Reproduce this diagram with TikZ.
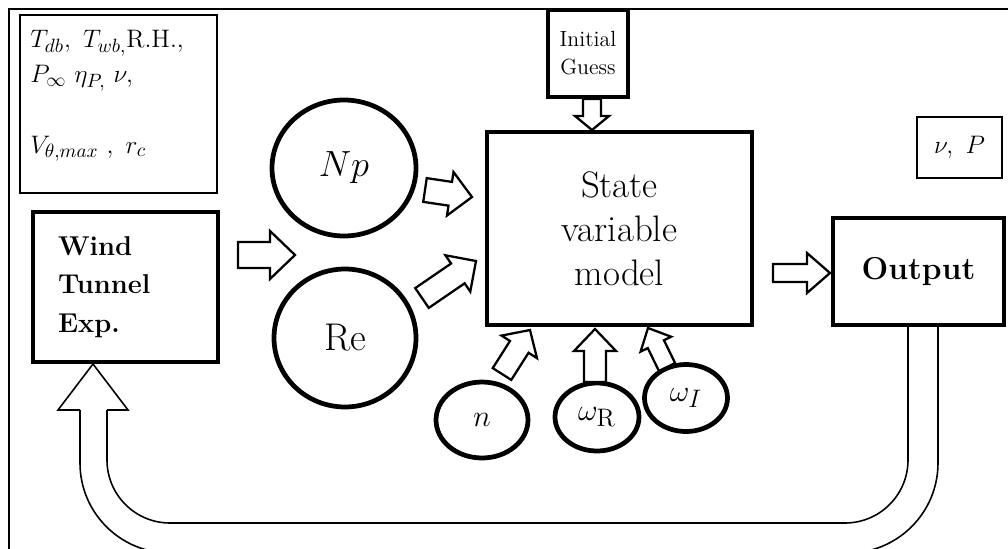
\documentclass[tikz,border=0pt]{standalone}
\usepackage{amsmath}
\usepackage{amssymb}
\usetikzlibrary{arrows.meta,calc,shapes.geometric}

\tikzset{
  thinbox/.style={draw, line width=0.6pt, inner sep=0pt},
  thickbox/.style={draw, fill=white, line width=2.6pt, inner sep=0pt},
  bubble/.style={draw, ellipse, line width=2.7pt, inner sep=0pt},
  blockarrow/.style={draw, fill=white, line width=1.3pt, line join=miter},
  looparrow/.style={line width=0.9pt},
}
% hollow arrow: tail, tip, half body width, half head width, head length
\newcommand{\hollowarrow}[5]{%
  \coordinate (hb) at ($(#2)!#5!(#1)$);
  \draw[blockarrow] ($(#1)!#3!90:(#2)$) -- ($(hb)!#3!-90:(#1)$)
    -- ($(hb)!#4!-90:(#1)$) -- (#2) -- ($(hb)!#4!90:(#1)$)
    -- ($(hb)!#3!90:(#1)$) -- ($(#1)!#3!-90:(#2)$) -- cycle;}

\begin{document}
\begin{tikzpicture}[x=0.02cm, y=-0.02cm]
  \useasboundingbox (0,0) rectangle (1008,548);
  % frame
  \draw[line width=0.8pt] (9,570) -- (9,9) -- (1030,9);

  % feedback loop
  \draw[looparrow, rounded corners=1.8cm] (938,325) -- (938,553) -- (80,553) -- (80,410);
  \draw[looparrow, rounded corners=1.26cm] (908,325) -- (908,523) -- (107,523) -- (107,410);
  \draw[looparrow] (80,410) -- (58,410) -- (93,364) -- (128,410) -- (107,410);

  % inputs
  \node[thinbox, minimum width=3.94cm, minimum height=3.56cm] (param) at (118.5,104) {};
  \node[anchor=north west, align=left, inner sep=0pt, font=\fontsize{15}{20}\selectfont]
    (paramtext) at (30,30) {$T_{db},\ T_{wb,}\mathrm{R.H.},$\\ $P_\infty\ \eta_{P,}\ \nu,$\\[20pt]
    $V_{\theta,max}\ ,\ r_c$};
  \node[thickbox, minimum width=3.7cm, minimum height=3cm, text width=2.7cm, align=left,
    font=\fontsize{15.5}{22}\selectfont\bfseries] (wind) at (125.5,287) {Wind\\Tunnel\\Exp.};

  % dimensionless groups
  \node[bubble, minimum width=2.88cm, minimum height=2.72cm, font=\fontsize{22}{26}\selectfont]
    (np) at (344,168) {$Np$};
  \node[bubble, minimum width=2.84cm, minimum height=2.76cm, font=\fontsize{22}{26}\selectfont]
    (re) at (345,338) {Re};

  % model
  \node[thickbox, minimum width=1.6cm, minimum height=1.74cm, align=center,
    font=\fontsize{12.5}{16}\selectfont] (guess) at (588,53.5) {Initial\\Guess};
  \node[thickbox, minimum width=5.3cm, minimum height=3.86cm, align=center,
    font=\fontsize{21}{25}\selectfont] (state) at (619.5,228.5) {State\\variable\\model};
  \node[bubble, minimum width=1.84cm, minimum height=1.52cm, font=\fontsize{19}{22}\selectfont]
    (n) at (482,420) {$n$};
  \node[bubble, minimum width=1.68cm, minimum height=1.36cm, font=\fontsize{19}{22}\selectfont]
    (wr) at (597,417) {$\omega_{\mathrm{R}}$};
  \node[bubble, minimum width=1.66cm, minimum height=1.34cm, font=\fontsize{19}{22}\selectfont]
    (wi) at (686,398) {$\omega_I$};

  % outputs
  \node[thickbox, minimum width=3.42cm, minimum height=2.14cm,
    font=\fontsize{18}{22}\selectfont\bfseries] (output) at (918.5,271.5) {Output};
  \node[thinbox, minimum width=1.7cm, minimum height=1.22cm, font=\fontsize{14}{16}\selectfont]
    (vp) at (959.5,147.5) {$\nu,\ P$};

  % arrow ends
  \coordinate (a1) at (238,255);  \coordinate (b1) at (295,255);
  \coordinate (a2) at (425,190);  \coordinate (b2) at (472,197);
  \coordinate (a3) at (422,298);  \coordinate (b3) at (476,261);
  \coordinate (a4) at (592,99);   \coordinate (b4) at (592,130);
  \coordinate (a5) at (502,374);  \coordinate (b5) at (530,330);
  \coordinate (a6) at (595,382);  \coordinate (b6) at (595,329);
  \coordinate (a7) at (667,367);  \coordinate (b7) at (648,328);
  \coordinate (a8) at (773,273);  \coordinate (b8) at (830,273);

  \hollowarrow{a1}{b1}{0.26cm}{0.48cm}{0.5cm}
  \hollowarrow{a2}{b2}{0.24cm}{0.44cm}{0.44cm}
  \hollowarrow{a3}{b3}{0.24cm}{0.44cm}{0.44cm}
  \hollowarrow{a4}{b4}{0.18cm}{0.34cm}{0.28cm}
  \hollowarrow{a5}{b5}{0.22cm}{0.42cm}{0.4cm}
  \hollowarrow{a6}{b6}{0.22cm}{0.42cm}{0.44cm}
  \hollowarrow{a7}{b7}{0.18cm}{0.34cm}{0.36cm}
  \hollowarrow{a8}{b8}{0.18cm}{0.4cm}{0.46cm}
\end{tikzpicture}
\end{document}
